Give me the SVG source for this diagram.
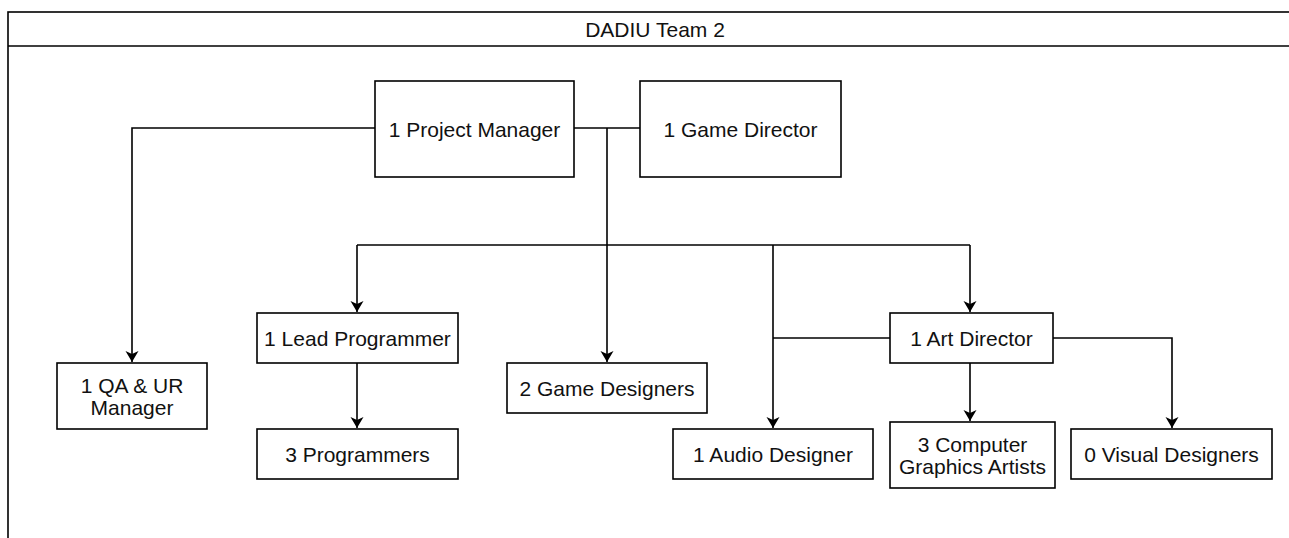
<svg xmlns="http://www.w3.org/2000/svg" width="1289" height="538" viewBox="0 0 1289 538">
  <style>
    .box { fill: #ffffff; stroke: #000000; stroke-width: 1.6; }
    .lbl { font-family: "Liberation Sans", Arial, sans-serif; font-size: 21px; fill: #111111; text-anchor: middle; dominant-baseline: central; }
    .edge { fill: none; stroke: #000000; stroke-width: 1.6; }
    .arrow { fill: none; stroke: #000000; stroke-width: 1.6; marker-end: url(#arr); }
  </style>
  <defs>
    <marker id="arr" markerUnits="userSpaceOnUse" viewBox="-12 -7 13 14" refX="0" refY="0" markerWidth="13" markerHeight="14" orient="auto">
      <path d="M0,0 L-11,-6.5 L-8,0 L-11,6.5 Z" fill="#000000"/>
    </marker>
  </defs>
  <rect width="1289" height="538" fill="#ffffff"/>
  <g id="container">
    <rect x="8" y="12" width="1300" height="600" fill="none" stroke="#000000" stroke-width="1.6"/>
    <line x1="8" y1="46" x2="1300" y2="46" stroke="#000000" stroke-width="1.6"/>
    <text class="lbl" x="655" y="29">DADIU Team 2</text>
  </g>
  <g id="connectors">
    <path class="arrow" d="M375,128 H132 V362"/>
    <path class="edge" d="M574,128 H640"/>
    <path class="arrow" d="M607,128 V362"/>
    <path class="edge" d="M357,245 H970"/>
    <path class="arrow" d="M357,245 V312"/>
    <path class="arrow" d="M970,245 V312"/>
    <path class="arrow" d="M773,245 V428"/>
    <path class="edge" d="M890,338 H773"/>
    <path class="arrow" d="M357,363 V428"/>
    <path class="arrow" d="M970,363 V421"/>
    <path class="arrow" d="M1053,338 H1172 V428"/>
  </g>
  <g id="project-manager">
    <rect class="box" x="375" y="81" width="199" height="96"/>
    <text class="lbl" x="474.5" y="129">1 Project Manager</text>
  </g>
  <g id="game-director">
    <rect class="box" x="640" y="81" width="201" height="96"/>
    <text class="lbl" x="740.5" y="129">1 Game Director</text>
  </g>
  <g id="qa-ur-manager">
    <rect class="box" x="57" y="363" width="150" height="66"/>
    <text class="lbl" x="132" y="385">1 QA &amp; UR</text>
    <text class="lbl" x="132" y="407">Manager</text>
  </g>
  <g id="lead-programmer">
    <rect class="box" x="257" y="313" width="201" height="50"/>
    <text class="lbl" x="357.5" y="338">1 Lead Programmer</text>
  </g>
  <g id="programmers">
    <rect class="box" x="257" y="429" width="201" height="50"/>
    <text class="lbl" x="357.5" y="454">3 Programmers</text>
  </g>
  <g id="game-designers">
    <rect class="box" x="507" y="363" width="200" height="50"/>
    <text class="lbl" x="607" y="388">2 Game Designers</text>
  </g>
  <g id="art-director">
    <rect class="box" x="890" y="313" width="163" height="50"/>
    <text class="lbl" x="971.5" y="338">1 Art Director</text>
  </g>
  <g id="audio-designer">
    <rect class="box" x="673" y="429" width="200" height="50"/>
    <text class="lbl" x="773" y="454">1 Audio Designer</text>
  </g>
  <g id="cg-artists">
    <rect class="box" x="890" y="422" width="165" height="66"/>
    <text class="lbl" x="972.5" y="444">3 Computer</text>
    <text class="lbl" x="972.5" y="466">Graphics Artists</text>
  </g>
  <g id="visual-designers">
    <rect class="box" x="1071" y="429" width="201" height="50"/>
    <text class="lbl" x="1171.5" y="454">0 Visual Designers</text>
  </g>
</svg>
